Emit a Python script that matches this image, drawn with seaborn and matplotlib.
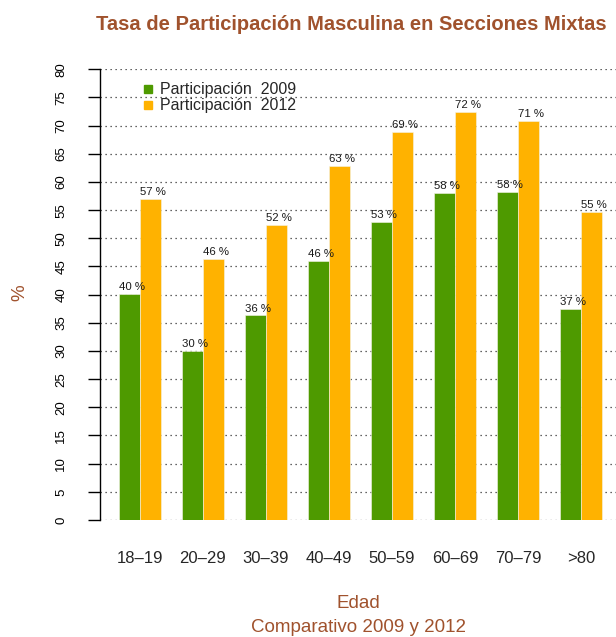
import matplotlib
matplotlib.use('Agg')
import matplotlib.pyplot as plt
import seaborn as sns
import pandas as pd
import numpy as np
from matplotlib.lines import Line2D

# data
edades = ['18–19', '20–29', '30–39', '40–49', '50–59', '60–69', '70–79', '>80']
part_2009 = [40.2, 30.0, 36.3, 46.0, 52.9, 58.0, 58.2, 37.4]
part_2012 = [57.0, 46.4, 52.3, 62.8, 68.9, 72.4, 70.9, 54.6]
series = ['Participación  2009', 'Participación  2012']
colores = ['#4E9A00', '#FFB200']
brown = '#A0522D'

df = pd.DataFrame({
    'edad': edades * 2,
    'valor': part_2009 + part_2012,
    'serie': [series[0]] * len(edades) + [series[1]] * len(edades),
})

sns.set_style('white')
plt.rcParams['font.family'] = ['Liberation Sans', 'DejaVu Sans']

fig = plt.figure(figsize=(6.16, 6.37), dpi=100)
ax = fig.add_axes([100/616, 1 - 520/637, 1 - 100/616, (520 - 69.3)/637])

# dotted grid under the bars
for y in range(0, 81, 5):
    ax.axhline(y, color='#333333', linestyle=(0, (1, 3)), linewidth=0.9, zorder=0)

sns.barplot(data=df, x='edad', y='valor', hue='serie', palette=colores,
            width=2/3, gap=0, ax=ax, legend=False, zorder=2, saturation=1,
            edgecolor='#f4f4e8', linewidth=0.4)

for cont in ax.containers:
    for bar in cont:
        h = bar.get_height()
        ax.text(bar.get_x(), h + 0.35, '%.0f %%' % h, ha='left', va='bottom',
                fontsize=8.2, color='#1a1a1a', zorder=3)

ax.set_xlim(-40/63, 476/63)
ax.set_ylim(0, 80)
ax.set_yticks(range(0, 81, 5))
ax.set_yticklabels([str(v) for v in range(0, 81, 5)], rotation=90, va='center', fontsize=9.5)
ax.tick_params(axis='y', length=8.5, width=1, pad=15, colors='black', left=True)
ax.tick_params(axis='x', length=0, pad=22, labelsize=12)
for s in ['top', 'right', 'bottom']:
    ax.spines[s].set_visible(False)
ax.spines['left'].set_color('black')
ax.spines['left'].set_linewidth(1)
ax.set_xlabel('')
ax.set_ylabel('')

fig.text(20/616, 1 - 293/637, '%', rotation=90, ha='center', va='center',
         color=brown, fontsize=13.5)
fig.text(358/616, 1 - 603/637, 'Edad', ha='center', va='center', color=brown, fontsize=13.5)
fig.text(358/616, 1 - 627/637, 'Comparativo 2009 y 2012', ha='center', va='center',
         color=brown, fontsize=13.5)
fig.text(351/616, 1 - 24/637, 'Tasa de Participación Masculina en Secciones Mixtas',
         ha='center', va='center', color=brown, fontsize=14.5, fontweight='bold')

handles = [Line2D([0], [0], marker='s', color='w', markerfacecolor=c, markeredgecolor=c,
                  markersize=5.5, label=l) for c, l in zip(colores, series)]
ax.legend(handles=handles, loc='upper left', bbox_to_anchor=(0.068, 0.985), frameon=False,
          fontsize=11.5, handlelength=0.8, handletextpad=0.35, labelspacing=0.05,
          borderaxespad=0)

fig.savefig('out.png', dpi=100)
